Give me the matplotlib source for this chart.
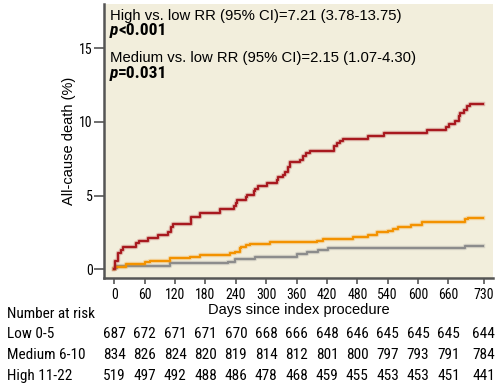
import matplotlib
matplotlib.use("Agg")
import matplotlib.pyplot as plt
import matplotlib.patheffects as pe
from matplotlib.transforms import blended_transform_factory

# cumulative all-cause death (%), step times in days
high_days = [0, 1, 8, 13, 18, 43, 49, 67, 86, 107, 112, 115, 151, 169, 209, 237, 240, 242,
             260, 263, 275, 277, 283, 301, 321, 324, 333, 337, 344, 347, 367, 373, 379, 387,
             433, 439, 446, 452, 501, 533, 617, 655, 662, 672, 680, 683, 691, 697, 702, 729]
high_vals = [0, 0.6, 1.14, 1.32, 1.55, 1.78, 1.96, 2.14, 2.34, 2.57, 2.87, 3.09, 3.55, 3.82,
             4.11, 4.27, 4.5, 4.72, 4.9, 5.06, 5.29, 5.45, 5.63, 5.86, 6.08, 6.26, 6.42, 6.64,
             6.98, 7.26, 7.44, 7.66, 7.9, 8.05, 8.34, 8.57, 8.68, 8.84, 9.02, 9.25, 9.48, 9.63,
             9.86, 10.09, 10.43, 10.6, 10.8, 11.06, 11.24, 11.24]

med_days = [0, 1, 24, 60, 70, 110, 149, 169, 228, 238, 248, 251, 261, 268, 307, 400, 413,
            472, 502, 518, 541, 551, 561, 587, 607, 693, 699, 729]
med_vals = [0, 0.19, 0.37, 0.49, 0.6, 0.76, 0.87, 0.98, 1.1, 1.21, 1.44, 1.55, 1.66, 1.73,
            1.85, 1.96, 2.07, 2.19, 2.34, 2.53, 2.64, 2.75, 2.91, 3.02, 3.25, 3.41, 3.52, 3.52]

low_days = [0, 1, 5, 110, 225, 238, 278, 360, 380, 403, 423, 693, 729]
low_vals = [0, 0.12, 0.26, 0.42, 0.53, 0.71, 0.87, 1.02, 1.21, 1.32, 1.44, 1.6, 1.6]

xticks = [0, 60, 120, 180, 240, 300, 360, 420, 480, 540, 600, 660, 730]
yticks = [0, 5, 10, 15]

risk_labels = ["Low 0-5", "Medium 6-10", "High 11-22"]
risk_low = [687, 672, 671, 671, 670, 668, 666, 648, 646, 645, 645, 645, 644]
risk_med = [834, 826, 824, 820, 819, 814, 812, 801, 800, 797, 793, 791, 784]
risk_high = [519, 497, 492, 488, 486, 478, 468, 459, 455, 453, 453, 451, 441]

narrow = ["Roboto Condensed", "DejaVu Sans"]
regular = ["Liberation Sans", "DejaVu Sans"]

fig = plt.figure(figsize=(5.02, 3.90), dpi=100)
ax = fig.add_axes([104 / 502, 112 / 390, 389 / 502, 274 / 390])
ax.set_facecolor("#f2eedc")

for d, v, c in [(low_days, low_vals, "#8c8c8c"),
                (med_days, med_vals, "#f39200"),
                (high_days, high_vals, "#a8191f")]:
    ax.step(d, v, where="post", color=c, lw=1.6,
            path_effects=[pe.Stroke(linewidth=3.2, foreground=c, alpha=0.25), pe.Normal()])

ax.set_xlim(-20.4, 748)
ax.set_ylim(-0.58, 18.0)
ax.set_xticks(xticks)
ax.set_yticks(yticks)
ax.set_xticklabels([str(t) for t in xticks], family=narrow, fontsize=10)
ax.set_yticklabels([str(t) for t in yticks], family=narrow, fontsize=10)
ax.tick_params(axis="x", length=4, width=1.2, color="#555555", pad=3)
ax.tick_params(axis="y", length=7, width=1.2, color="#555555", pad=1)

for s in ["top", "right"]:
    ax.spines[s].set_visible(False)
for s in ["left", "bottom"]:
    ax.spines[s].set_color("#555555")
    ax.spines[s].set_linewidth(1.8)

ax.set_ylabel("All-cause death (%)", family=regular, fontsize=10.5, labelpad=2)
ax.set_xlabel("Days since index procedure", family=regular, fontsize=10.5, labelpad=1)

# hazard ratio annotations
ax.text(0.015, 0.942, "High vs. low RR (95% CI)=7.21 (3.78-13.75)", transform=ax.transAxes,
        family=regular, fontsize=10.7, va="baseline")
p1 = ax.text(0.015, 0.887, "p", transform=ax.transAxes, family=narrow, fontsize=12.5,
             weight="bold", style="italic", va="baseline")
ax.annotate("<0.001", xy=(1, 0), xycoords=p1, family=narrow, fontsize=12.5,
            weight="bold", va="bottom")
ax.text(0.015, 0.787, "Medium vs. low RR (95% CI)=2.15 (1.07-4.30)", transform=ax.transAxes,
        family=regular, fontsize=10.7, va="baseline")
p2 = ax.text(0.015, 0.731, "p", transform=ax.transAxes, family=narrow, fontsize=12.5,
             weight="bold", style="italic", va="baseline")
ax.annotate("=0.031", xy=(1, 0), xycoords=p2, family=narrow, fontsize=12.5,
            weight="bold", va="bottom")

# number at risk table
fig.text(7 / 502, 1 - 314 / 390, "Number at risk", family=narrow, fontsize=11, va="center")
trans = blended_transform_factory(ax.transData, fig.transFigure)
for i, (lab, row) in enumerate(zip(risk_labels, [risk_low, risk_med, risk_high])):
    y = 1 - (334 + 21 * i) / 390
    fig.text(7 / 502, y, lab, family=narrow, fontsize=11, va="center")
    for t, n in zip(xticks, row):
        ax.text(t, y, str(n), transform=trans, family=narrow, fontsize=11,
                ha="center", va="center", clip_on=False)

fig.savefig("out.png", dpi=100)
